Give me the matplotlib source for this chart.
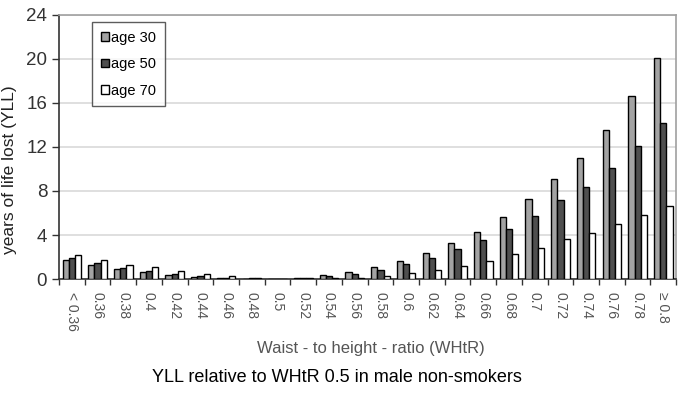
import numpy as np
import matplotlib.pyplot as plt

plt.rcParams['font.family'] = ['Liberation Sans', 'DejaVu Sans']

# WHtR categories
labels = ["< 0.36", "0.36", "0.38", "0.4", "0.42", "0.44", "0.46", "0.48", "0.5",
          "0.52", "0.54", "0.56", "0.58", "0.6", "0.62", "0.64", "0.66", "0.68",
          "0.7", "0.72", "0.74", "0.76", "0.78", "\u2265 0.8"]

# years of life lost
age30 = [1.76, 1.3, 0.91, 0.6, 0.36, 0.15, 0.06, 0.04, 0.0, 0.08, 0.36, 0.66,
         1.06, 1.64, 2.4, 3.27, 4.3, 5.65, 7.25, 9.1, 11.0, 13.5, 16.6, 20.1]
age50 = [1.91, 1.45, 1.0, 0.76, 0.42, 0.24, 0.06, 0.12, 0.0, 0.08, 0.3, 0.45,
         0.85, 1.36, 1.95, 2.7, 3.55, 4.55, 5.7, 7.15, 8.4, 10.1, 12.1, 14.2]
age70 = [2.2, 1.76, 1.3, 1.06, 0.73, 0.42, 0.3, 0.08, 0.0, 0.06, 0.09, 0.12,
         0.25, 0.52, 0.82, 1.2, 1.65, 2.25, 2.85, 3.6, 4.2, 5.0, 5.8, 6.67]

fig = plt.figure(figsize=(6.85, 3.93), dpi=100)
ax = fig.add_axes([0.0861, 0.290, 0.901, 0.672])

x = np.arange(len(labels))
w = 0.24
kw = dict(edgecolor="black", linewidth=1.0, zorder=3)
ax.bar(x - w, age30, w, color="#a3a3a3", label="age 30", **kw)
ax.bar(x, age50, w, color="#4f4f4f", label="age 50", **kw)
ax.bar(x + w, age70, w, color="white", label="age 70", **kw)

ax.set_xlim(-0.5, len(labels) - 0.5)
ax.set_ylim(0, 24)
ax.set_yticks(np.arange(0, 25, 4))
ax.yaxis.grid(True, color="#d9d9d9", linewidth=1.2, zorder=0)
ax.set_axisbelow(True)

ax.set_xticks(x)
ax.set_xticklabels(labels, rotation=-90, fontsize=10, color="#555555")
ax.set_xticks(np.arange(-0.5, len(labels), 1), minor=True)
ax.tick_params(axis="x", which="major", length=0, pad=9)
ax.tick_params(axis="x", which="minor", length=4, width=1, color="#333333")
ax.tick_params(axis="y", labelsize=13.5, colors="#333333", length=5, width=1)

for s in ["top", "right"]:
    ax.spines[s].set_color("#a0a0a0")
    ax.spines[s].set_linewidth(1.2)
for s in ["left", "bottom"]:
    ax.spines[s].set_color("#333333")
    ax.spines[s].set_linewidth(1.2)

ax.set_ylabel("years of life lost (YLL)", fontsize=12.5, color="#222222")
ax.yaxis.set_label_coords(-0.068, 0.413)

leg = ax.legend(loc="upper left", bbox_to_anchor=(0.0535, 0.973), borderaxespad=0,
                fontsize=10.5, frameon=True, fancybox=False, edgecolor="#333333",
                handlelength=0.55, handleheight=0.55, handletextpad=0.15,
                labelspacing=0.85, borderpad=0.6)
leg.get_frame().set_linewidth(1.0)

fig.text(0.5416, 0.112, "Waist - to height - ratio (WHtR)", ha="center", va="center",
         fontsize=12, color="#555555")
fig.text(0.492, 0.040, "YLL relative to WHtR 0.5 in male non-smokers", ha="center",
         va="center", fontsize=13, color="black")

fig.savefig("out.png", dpi=100)
